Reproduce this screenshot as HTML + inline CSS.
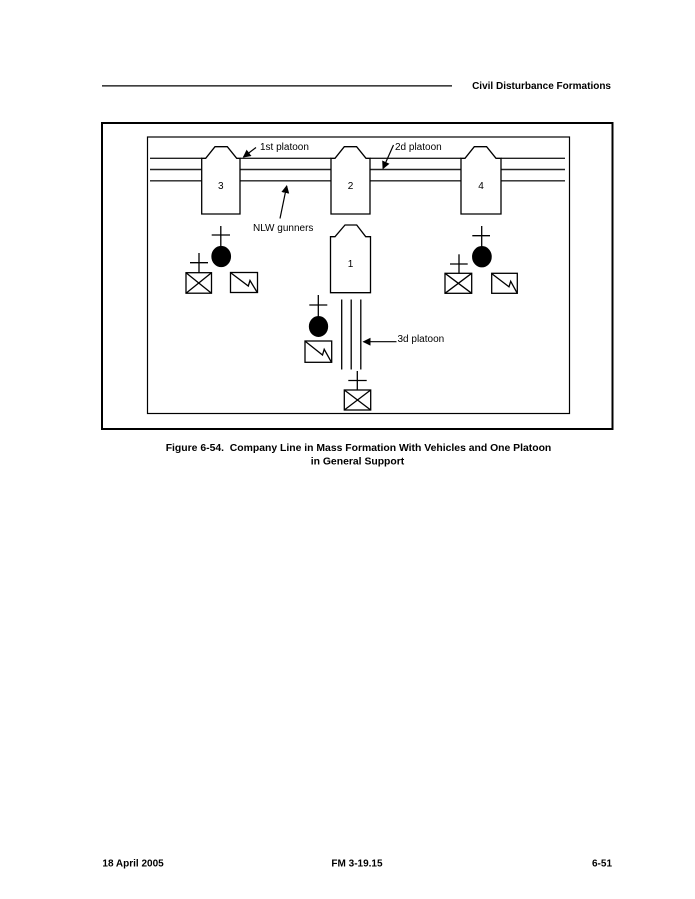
<!DOCTYPE html>
<html>
<head>
<meta charset="utf-8">
<style>
  html,body{margin:0;padding:0;background:#fff;}
  body{width:695px;height:899px;position:relative;overflow:hidden;}
  svg{position:absolute;left:0;top:0;}
  text{font-family:"Liberation Sans",Arial,sans-serif;fill:#000;}
</style>
</head>
<body>
<svg width="695" height="899" viewBox="0 0 695 899" xmlns="http://www.w3.org/2000/svg">
  <defs>
    <marker id="ah" markerWidth="8" markerHeight="8" refX="7" refY="4" orient="auto" markerUnits="userSpaceOnUse">
      <path d="M0,0 L8,4 L0,8 z" fill="#000"/>
    </marker>
  </defs>

  <!-- Header -->
  <line x1="102" y1="85.9" x2="452" y2="85.9" stroke="#000" stroke-width="1.3"/>
  <text x="611" y="89" font-size="10" font-weight="bold" text-anchor="end">Civil Disturbance Formations</text>

  <!-- Frames -->
  <rect x="102" y="123" width="510.5" height="306" fill="none" stroke="#000" stroke-width="2"/>
  <rect x="147.5" y="137" width="422" height="276.5" fill="none" stroke="#000" stroke-width="1.2"/>

  <!-- Horizontal platoon lines -->
  <g stroke="#222" stroke-width="1.4">
    <line x1="150" y1="158.3" x2="202" y2="158.3"/>
    <line x1="150" y1="169.5" x2="202" y2="169.5"/>
    <line x1="150" y1="180.8" x2="202" y2="180.8"/>
    <line x1="240" y1="158.3" x2="331" y2="158.3"/>
    <line x1="240" y1="169.5" x2="331" y2="169.5"/>
    <line x1="240" y1="180.8" x2="331" y2="180.8"/>
    <line x1="370" y1="158.3" x2="461" y2="158.3"/>
    <line x1="370" y1="169.5" x2="461" y2="169.5"/>
    <line x1="370" y1="180.8" x2="461" y2="180.8"/>
    <line x1="501" y1="158.3" x2="565" y2="158.3"/>
    <line x1="501" y1="169.5" x2="565" y2="169.5"/>
    <line x1="501" y1="180.8" x2="565" y2="180.8"/>
  </g>

  <!-- Vehicles -->
  <g fill="#fff" stroke="#000" stroke-width="1.3" stroke-linejoin="miter">
    <path d="M201.7,214 L201.7,158.3 L205.7,158.3 L215,146.7 L227.3,146.7 L236.7,158.3 L240,158.3 L240,214 Z"/>
    <path d="M331,214 L331,158.3 L335,158.3 L344.3,146.7 L356.6,146.7 L366,158.3 L370,158.3 L370,214 Z"/>
    <path d="M461,214 L461,158.3 L465,158.3 L474.3,146.7 L486.6,146.7 L496,158.3 L501,158.3 L501,214 Z"/>
    <path d="M330.5,292.7 L330.5,236.7 L335,236.7 L345,225 L356.7,225 L365.7,236.7 L370.5,236.7 L370.5,292.7 Z"/>
  </g>
  <text x="220.8" y="189" font-size="10" text-anchor="middle">3</text>
  <text x="350.5" y="189" font-size="10" text-anchor="middle">2</text>
  <text x="481" y="189" font-size="10" text-anchor="middle">4</text>
  <text x="350.5" y="267" font-size="10" text-anchor="middle">1</text>

  <!-- Labels and arrows -->
  <text x="260" y="150" font-size="10">1st platoon</text>
  <line x1="256" y1="147.5" x2="243.5" y2="157" stroke="#000" stroke-width="1.2" marker-end="url(#ah)"/>

  <text x="395" y="150" font-size="10">2d platoon</text>
  <line x1="393.5" y1="145" x2="383" y2="168.5" stroke="#000" stroke-width="1.2" marker-end="url(#ah)"/>

  <text x="253" y="231" font-size="10">NLW gunners</text>
  <line x1="280" y1="218.5" x2="286.7" y2="186" stroke="#000" stroke-width="1.2" marker-end="url(#ah)"/>

  <text x="397.5" y="342" font-size="10">3d platoon</text>
  <line x1="396.5" y1="341.7" x2="363.5" y2="341.7" stroke="#000" stroke-width="1.2" marker-end="url(#ah)"/>

  <!-- 3d platoon vertical lines -->
  <g stroke="#000" stroke-width="1.3">
    <line x1="341.7" y1="299.5" x2="341.7" y2="369.5"/>
    <line x1="351.2" y1="299.5" x2="351.2" y2="369.5"/>
    <line x1="360.8" y1="299.5" x2="360.8" y2="369.5"/>
  </g>

  <!-- Symbol groups -->
  <g stroke="#000" stroke-width="1.3" fill="none">
    <line x1="220.8" y1="226" x2="220.8" y2="247"/>
    <line x1="211.7" y1="235" x2="230" y2="235"/>
    <ellipse cx="221.2" cy="256.5" rx="9.2" ry="10" fill="#000"/>
    <line x1="199" y1="253" x2="199" y2="272.7"/>
    <line x1="190" y1="262.7" x2="208" y2="262.7"/>
    <rect x="186" y="272.7" width="25.5" height="20.5"/>
    <line x1="186" y1="272.7" x2="211.5" y2="293.2"/>
    <line x1="211.5" y1="272.7" x2="186" y2="293.2"/>
    <rect x="230.5" y="272.5" width="27" height="20"/>
    <path d="M231,273 L248.3,286 L250,280.5 L257,292"/>

    <line x1="481.7" y1="226" x2="481.7" y2="247"/>
    <line x1="472.3" y1="235.7" x2="490" y2="235.7"/>
    <ellipse cx="481.9" cy="256.7" rx="9.2" ry="10" fill="#000"/>
    <line x1="459" y1="254.3" x2="459" y2="273.3"/>
    <line x1="450" y1="264" x2="467.7" y2="264"/>
    <rect x="445" y="273.3" width="26.7" height="20"/>
    <line x1="445" y1="273.3" x2="471.7" y2="293.3"/>
    <line x1="471.7" y1="273.3" x2="445" y2="293.3"/>
    <rect x="491.7" y="273.3" width="25.6" height="20"/>
    <path d="M492.2,274 L509,286.8 L510.7,281.3 L517,292.8"/>

    <line x1="318.3" y1="295" x2="318.3" y2="317"/>
    <line x1="309.3" y1="305" x2="327.3" y2="305"/>
    <ellipse cx="318.5" cy="326.5" rx="9" ry="9.8" fill="#000"/>
    <rect x="305" y="341" width="26.7" height="21.3"/>
    <path d="M305.5,341.5 L322.5,355 L324.2,349.3 L331.2,361.8"/>

    <line x1="357.3" y1="371" x2="357.3" y2="390"/>
    <line x1="348.3" y1="380.5" x2="366.7" y2="380.5"/>
    <rect x="344.3" y="390" width="26.4" height="20"/>
    <line x1="344.3" y1="390" x2="370.7" y2="410"/>
    <line x1="370.7" y1="390" x2="344.3" y2="410"/>
  </g>

  <!-- Caption -->
  <text x="358.5" y="451" font-size="10.4" font-weight="bold" text-anchor="middle" xml:space="preserve">Figure 6-54.  Company Line in Mass Formation With Vehicles and One Platoon</text>
  <text x="357.5" y="464.3" font-size="10.4" font-weight="bold" text-anchor="middle">in General Support</text>

  <!-- Footer -->
  <text x="102.4" y="866.5" font-size="10" font-weight="bold">18 April 2005</text>
  <text x="357" y="866.5" font-size="10" font-weight="bold" text-anchor="middle">FM 3-19.15</text>
  <text x="612" y="866.5" font-size="10" font-weight="bold" text-anchor="end">6-51</text>
</svg>
</body>
</html>
